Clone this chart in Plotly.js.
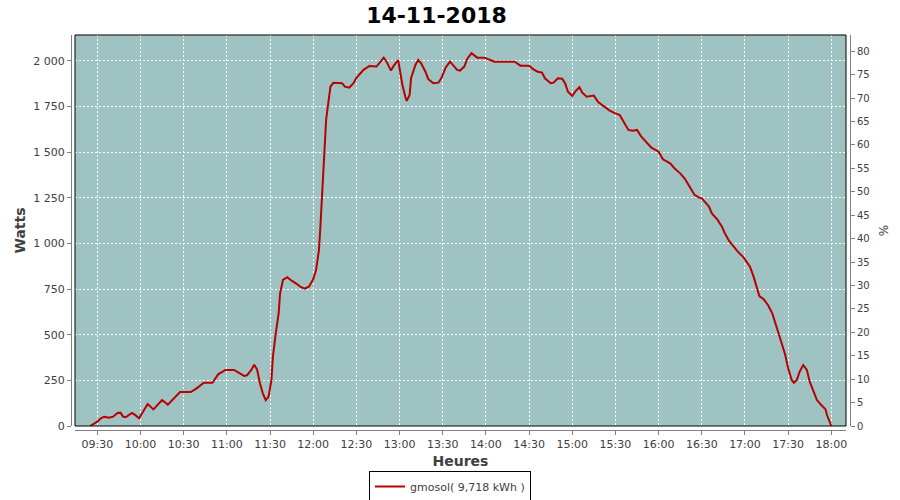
<!DOCTYPE html>
<html>
<head>
<meta charset="utf-8">
<script src="https://cdn.plot.ly/plotly-3.0.1.min.js"></script>
<style>html,body{margin:0;padding:0;background:#fff;}#chart{width:900px;height:500px;}</style>
</head>
<body>
<div id="chart"></div>
<script>
// ---- data ----
const chartDate = '2018-11-14';
const chartTitle = '14-11-2018';
const seriesName = 'gmosol( 9,718 kWh )';
const times = [
 '09:25','09:30','09:33','09:35','09:38','09:41','09:44','09:46','09:48','09:50',
 '09:54','09:56','09:59','10:02','10:05','10:09','10:15','10:19','10:23','10:27:30',
 '10:35','10:39','10:44','10:50','10:54','10:59','11:05','11:09','11:12','11:14',
 '11:17','11:19','11:21','11:23','11:25','11:27','11:29','11:31','11:32','11:34',
 '11:36','11:37','11:39','11:42','11:45','11:49','11:51','11:54','11:57','12:00',
 '12:02','12:03','12:04','12:05','12:06','12:07','12:08','12:09','12:10','12:11',
 '12:12','12:14','12:20','12:22','12:25','12:28','12:30','12:35','12:39','12:44',
 '12:46','12:49','12:51','12:54','12:56','12:59','13:00','13:02','13:04','13:05',
 '13:07','13:08','13:11','13:13','13:15','13:18','13:20','13:23:30','13:27','13:29',
 '13:32','13:35','13:37','13:40','13:42','13:45','13:47','13:50','13:54','13:59',
 '14:03','14:06','14:17','14:20','14:24','14:30','14:33','14:36','14:39','14:41',
 '14:45','14:47','14:50','14:53','14:55','14:57','15:00','15:02','15:05','15:07',
 '15:10','15:15','15:18','15:22','15:26','15:30','15:33','15:35','15:39','15:42',
 '15:45','15:48','15:52','15:55','16:00','16:03','16:08','16:11','16:15','16:18',
 '16:22','16:25','16:28','16:30','16:32','16:35','16:37','16:41','16:44','16:46',
 '16:49','16:52','16:55','16:59','17:01','17:03:30','17:06','17:08','17:10','17:13',
 '17:16','17:19','17:21','17:23','17:25:30','17:28','17:30','17:32:30','17:34','17:36',
 '17:38','17:40:30','17:43','17:45','17:47:30','17:50','17:53','17:56','17:57','17:59',
 '18:00'
];
const watts = [
 0,24,45,51,45,51,71,73,51,49,
 71,62,42,78,120,91,142,117,152,186,
 186,206,237,237,283,307,307,289,274,278,
 307,336,310,234,179,142,161,252,380,508,
 617,727,800,815,796,776,763,752,763,804,
 855,910,964,1092,1256,1420,1600,1680,1740,1810,
 1859,1880,1878,1859,1853,1878,1908,1951,1972,1969,
 1991,2018,1996,1947,1974,2005,1960,1868,1804,1781,
 1814,1905,1978,2005,1987,1941,1900,1878,1881,1905,
 1963,1996,1978,1951,1947,1969,2011,2042,2018,2018,
 2005,1996,1996,1996,1974,1974,1954,1941,1936,1905,
 1878,1881,1905,1903,1878,1832,1808,1832,1856,1826,
 1804,1810,1774,1750,1728,1713,1704,1677,1622,1618,
 1622,1585,1552,1525,1503,1461,1439,1412,1384,1357,
 1305,1266,1251,1247,1229,1202,1165,1129,1092,1056,
 1014,982,955,924,900,873,818,763,712,694,
 663,617,563,508,453,389,316,252,237,252,
 298,334,307,243,188,142,115,91,60,15,
 0
];
const wattTicks = [0,250,500,750,1000,1250,1500,1750,2000];
const pctTicks = [0,5,10,15,20,25,30,35,40,45,50,55,60,65,70,75,80];
const xStart = '09:14:30', xEnd = '18:10:12';
const wattMax = 2142, pctMax = 83.48;

// ---- chart ----
const font = 'DejaVu Sans, Verdana, sans-serif';
const xs = times.map(t => chartDate + ' ' + (t.length === 5 ? t + ':00' : t));

const traces = [
  {x: xs, y: watts, type: 'scatter', mode: 'lines', name: seriesName,
   line: {color: '#b80000', width: 2}, xaxis: 'x', yaxis: 'y'},
  {x: [], y: [], type: 'scatter', mode: 'lines', yaxis: 'y2', showlegend: false, hoverinfo: 'skip'}
];

const W = 779, H = 395;
const layout = {
  width: 900, height: 500,
  margin: {l: 71, r: 50, t: 35, b: 70, pad: 0},
  paper_bgcolor: '#ffffff',
  plot_bgcolor: '#9fc3c2',
  separators: ', ',
  font: {family: font, size: 11, color: '#404040'},
  title: {text: chartTitle, font: {family: font, size: 22, weight: 'bold', color: '#000000'},
          xref: 'container', yref: 'container', x: 0.485, xanchor: 'center', y: 1 - 15/500, yanchor: 'middle'},
  xaxis: {
    type: 'date', domain: [4/W, 1 - 4/W], anchor: 'free', position: 0,
    range: [chartDate + ' ' + xStart, chartDate + ' ' + xEnd],
    dtick: 30*60*1000, tick0: chartDate + ' 09:30:00', tickformat: '%H:%M',
    showline: true, linecolor: '#808080', linewidth: 1,
    ticks: 'outside', ticklen: 4, tickcolor: '#808080',
    tickfont: {family: font, size: 11, color: '#404040'},
    showgrid: true, gridcolor: '#ffffff', griddash: '2px,2px', gridwidth: 1,
    zeroline: false,
    title: {text: 'Heures', font: {family: font, size: 14, weight: 'bold', color: '#404040'}, standoff: 5}
  },
  yaxis: {
    domain: [4/H, 1], anchor: 'free', position: 0,
    range: [0, wattMax], tickvals: wattTicks, separatethousands: true, tickformat: ',d',
    showline: true, linecolor: '#808080', linewidth: 1,
    ticks: 'outside', ticklen: 4, tickcolor: '#808080',
    tickfont: {family: font, size: 11, color: '#404040'},
    showgrid: true, gridcolor: '#ffffff', griddash: '2px,2px', gridwidth: 1,
    zeroline: false,
    title: {text: 'Watts', font: {family: font, size: 14, weight: 'bold', color: '#404040'}, standoff: 3}
  },
  yaxis2: {
    domain: [4/H, 1], overlaying: 'y', side: 'right', anchor: 'free', position: 1,
    range: [0, pctMax], tickvals: pctTicks,
    showline: true, linecolor: '#808080', linewidth: 1,
    ticks: 'outside', ticklen: 4, tickcolor: '#808080',
    tickfont: {family: font, size: 10, color: '#404040'},
    showgrid: false, zeroline: false,
    title: {text: '%', font: {family: font, size: 12, color: '#404040'}, standoff: 10}
  },
  shapes: [
    {type: 'rect', xref: 'x domain', yref: 'y domain', x0: 0, x1: 1, y0: 0, y1: 1,
     line: {color: '#000000', width: 1}, fillcolor: 'rgba(0,0,0,0)', layer: 'above'}
  ],
  showlegend: true,
  legend: {orientation: 'h', xref: 'container', yref: 'container', x: 0.5, xanchor: 'center',
           y: 1 - 471/500, yanchor: 'top', bgcolor: '#ffffff', bordercolor: '#000000', borderwidth: 1,
           font: {family: font, size: 11, color: '#404040'}, itemwidth: 30}
};

Plotly.newPlot('chart', traces, layout, {displayModeBar: false, staticPlot: true});
</script>
</body>
</html>
